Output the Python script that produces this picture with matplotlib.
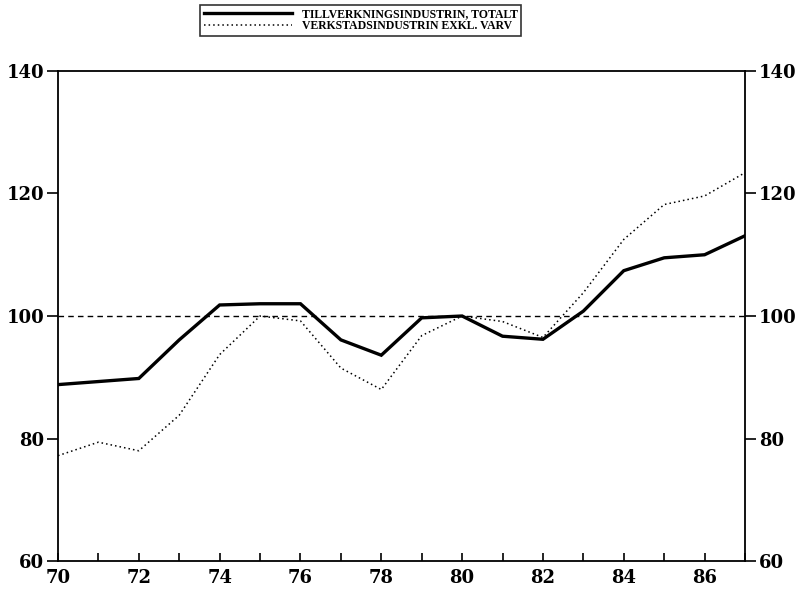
import matplotlib
matplotlib.use("Agg")
from matplotlib import pyplot as plt
from matplotlib.ticker import MultipleLocator

years = list(range(1970, 1988))
tillverkning = [88.8, 89.3, 89.8, 96.1, 101.8, 102.0, 102.0, 96.1, 93.6,
                99.7, 100.0, 96.7, 96.2, 100.8, 107.4, 109.5, 110.0, 113.1]
verkstad = [77.2, 79.4, 78.0, 83.8, 93.7, 100.0, 99.2, 91.5, 88.0,
            96.8, 100.0, 99.1, 96.5, 103.8, 112.5, 118.2, 119.6, 123.4]
labels = ["TILLVERKNINGSINDUSTRIN, TOTALT", "VERKSTADSINDUSTRIN EXKL. VARV"]
yticks = [60, 80, 100, 120, 140]
xticks = list(range(1970, 1988, 2))
xticklabels = [str(y % 100) for y in xticks]

plt.rcParams["font.family"] = "DejaVu Serif"
plt.rcParams["font.weight"] = "bold"
plt.rcParams["font.size"] = 13

fig = plt.figure(figsize=(8.03, 5.95), dpi=100)
ax = fig.add_axes([0.0722, 0.0571, 0.8556, 0.8236])

ax.plot(years, tillverkning, color="black", lw=2.4, label=labels[0],
        solid_joinstyle="miter")
ax.plot(years, verkstad, color="black", lw=1.1, linestyle=(0, (1, 2)),
        label=labels[1])
ax.axhline(100, color="black", lw=1.0, linestyle=(0, (4, 3)))

ax.set_xlim(1970, 1987)
ax.set_ylim(60, 140)
ax.set_xticks(xticks)
ax.set_xticklabels(xticklabels)
ax.xaxis.set_minor_locator(MultipleLocator(1))
ax.set_yticks(yticks)

ax.tick_params(axis="x", which="both", direction="in", length=6, width=1.2, pad=6)
ax.tick_params(axis="y", direction="out", length=8, width=1.2, pad=2,
               left=True, right=True, labelleft=True, labelright=True)

for s in ax.spines.values():
    s.set_linewidth(1.3)

leg = fig.legend(loc="center", bbox_to_anchor=(0.449, 0.966), ncol=1,
                 frameon=True, fancybox=False, edgecolor="black",
                 handlelength=7.5, handletextpad=0.8, borderpad=0.3,
                 labelspacing=0.0,
                 prop={"family": "Liberation Serif", "weight": "bold", "size": 8.5})
leg.get_frame().set_linewidth(1.2)

fig.savefig("out.png", dpi=100)
